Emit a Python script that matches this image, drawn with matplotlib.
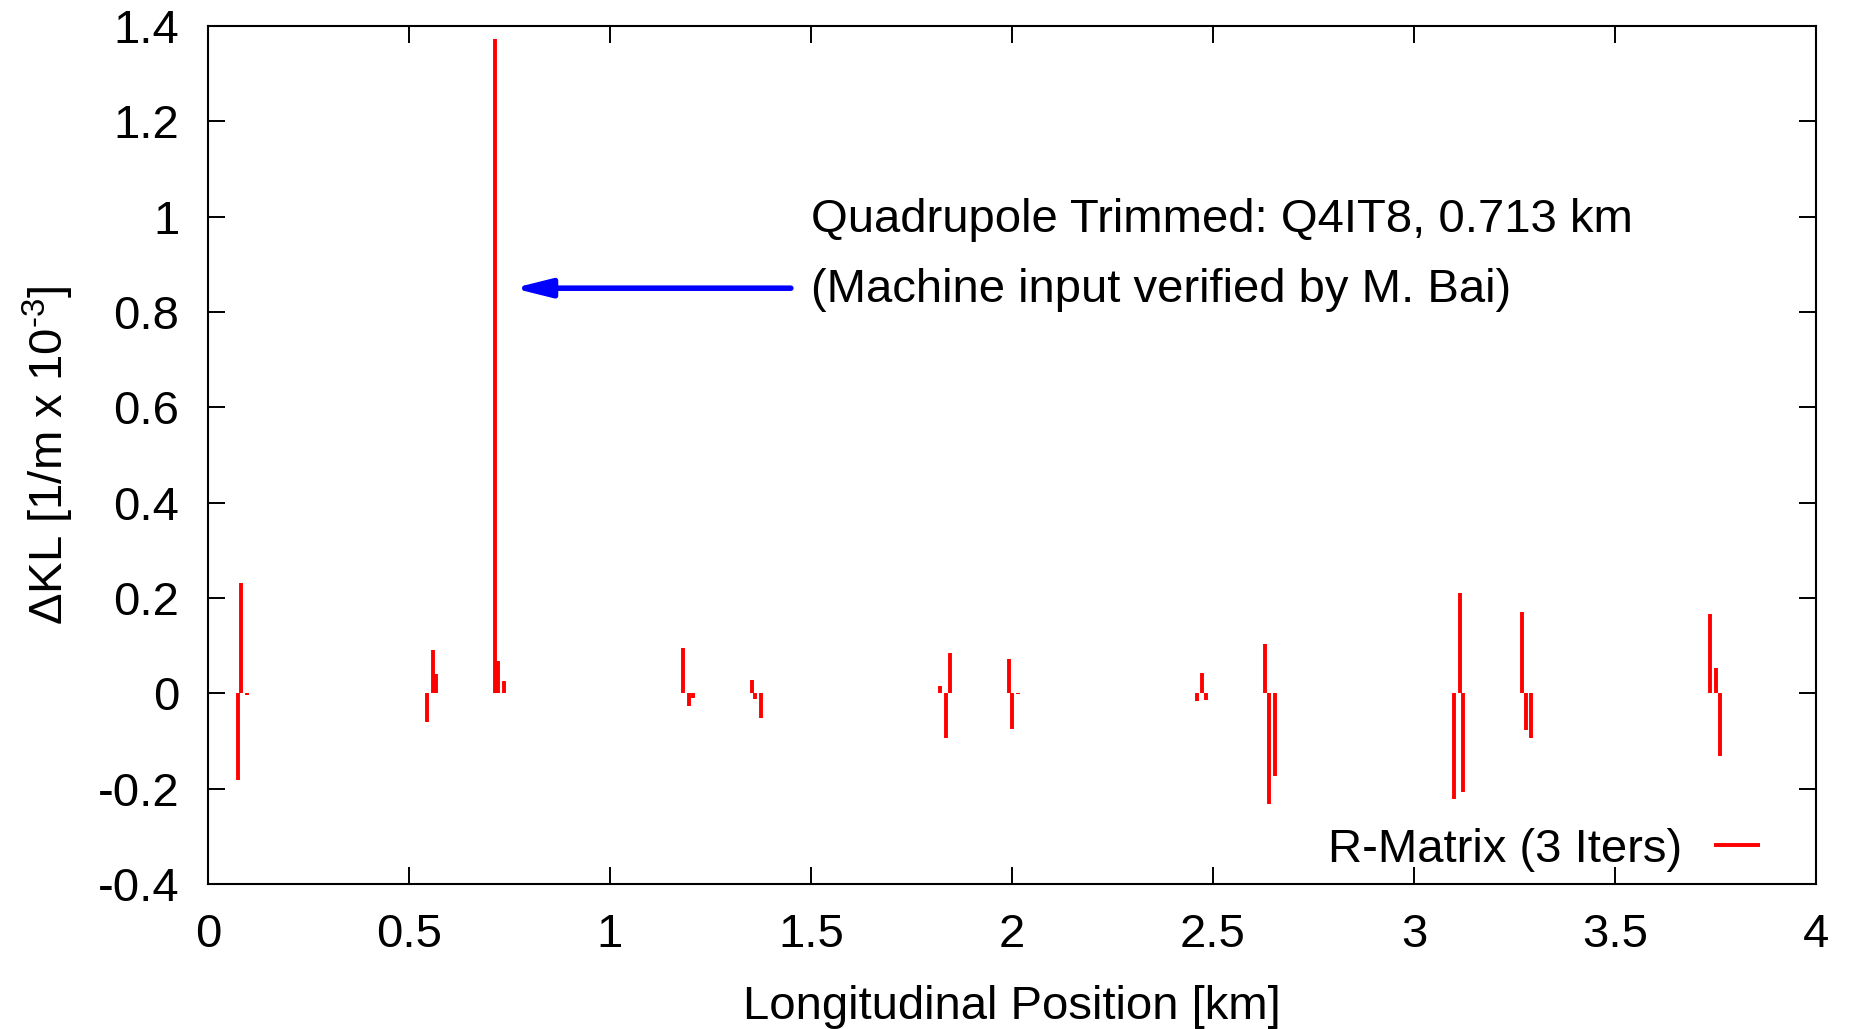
import matplotlib
matplotlib.use("Agg")
import matplotlib.pyplot as plt

# Data: quadrupole positions [km] and Delta KL values [1/m x 1e-3]
positions = [0.0747, 0.083, 0.098, 0.544, 0.559, 0.567, 0.713, 0.7224, 0.736,
             1.1826, 1.1975, 1.2057, 1.3525, 1.361, 1.375, 1.822, 1.8368, 1.845,
             1.9918, 2.000, 2.014, 2.460, 2.474, 2.4826, 2.630, 2.6385, 2.6535,
             3.099, 3.1137, 3.122, 3.2696, 3.278, 3.292, 3.737, 3.752, 3.7605]
delta_kl = [-0.182, 0.231, -0.003, -0.0595, 0.091, 0.040, 1.3726, 0.068, 0.026,
            0.0957, -0.0266, -0.010, 0.029, -0.0126, -0.0525, 0.0147, -0.094, 0.0845,
            0.073, -0.074, -0.002, -0.0155, 0.042, -0.014, 0.1034, -0.232, -0.1728,
            -0.221, 0.2098, -0.2064, 0.171, -0.076, -0.0944, 0.1664, 0.0538, -0.131]
xticks = [0, 0.5, 1, 1.5, 2, 2.5, 3, 3.5, 4]
xticklabels = ["0", "0.5", "1", "1.5", "2", "2.5", "3", "3.5", "4"]
yticks = [-0.4, -0.2, 0, 0.2, 0.4, 0.6, 0.8, 1.0, 1.2, 1.4]
yticklabels = ["-0.4", "-0.2", "0", "0.2", "0.4", "0.6", "0.8", "1", "1.2", "1.4"]
series_label = "R-Matrix (3 Iters)"
annot_lines = ["Quadrupole Trimmed: Q4IT8, 0.713 km", "(Machine input verified by M. Bai)"]

plt.rcParams['font.family'] = ['Liberation Sans', 'DejaVu Sans']
plt.rcParams['mathtext.fontset'] = 'custom'
plt.rcParams['mathtext.rm'] = 'Liberation Sans'

FS = 34
fig = plt.figure(figsize=(18.6, 10.29), dpi=100)
ax = fig.add_axes([0.1118, 0.1409, 0.8645, 0.8338])

ax.vlines(positions, 0, delta_kl, colors='#ff0000', linewidth=2.8,
          label=series_label)

ax.set_xlim(0, 4)
ax.set_ylim(-0.4, 1.4)
ax.set_xticks(xticks)
ax.set_xticklabels(xticklabels)
ax.set_yticks(yticks)
ax.set_yticklabels(yticklabels)

ax.tick_params(direction='in', length=12, width=1.4, labelsize=FS,
               top=True, right=True)
ax.tick_params(axis='x', pad=21)
ax.tick_params(axis='y', pad=20.5)
for s in ax.spines.values():
    s.set_linewidth(1.5)

ax.set_xlabel("Longitudinal Position [km]", fontsize=FS, labelpad=20)
ax.set_ylabel(r"ΔKL [1/m x 10$^{\text{-3}}$]", fontsize=FS, labelpad=16)

# annotation
ax.annotate("", xy=(0.76, 0.85), xytext=(1.45, 0.85),
            arrowprops=dict(arrowstyle='-|>,head_length=2.2,head_width=0.55',
                            color='#0000ff', lw=4, shrinkA=0, shrinkB=0))
ax.text(1.5, 0.993, annot_lines[0], fontsize=FS, va='center', ha='left')
ax.text(1.5, 0.846, annot_lines[1], fontsize=FS, va='center', ha='left')

leg = ax.legend(loc='center right', bbox_to_anchor=(0.965, 0.04),
                frameon=False, fontsize=FS, markerfirst=False,
                handlelength=0.96, borderaxespad=0, borderpad=0,
                handletextpad=0.68)

fig.savefig("out.png", dpi=100)
